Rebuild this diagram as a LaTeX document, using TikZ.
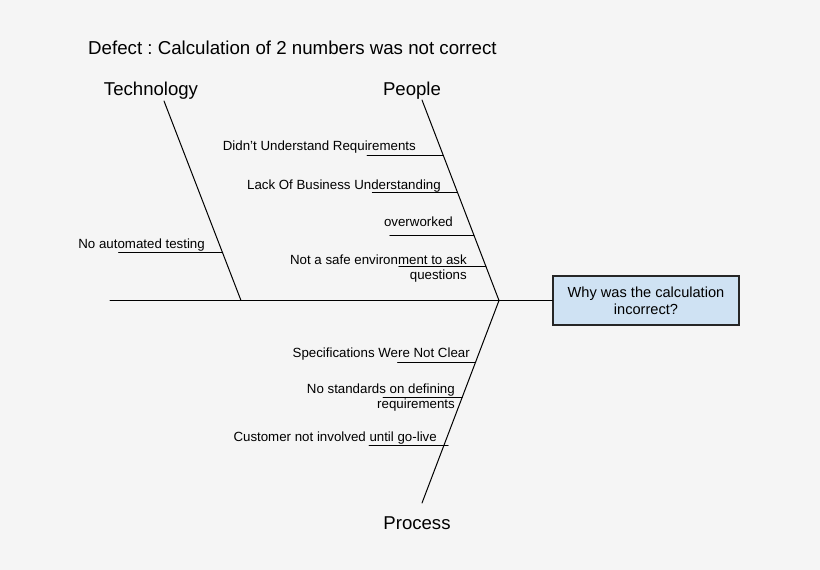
\documentclass[tikz,border=0pt]{standalone}
\usepackage{fontspec}
\setmainfont{Liberation Sans}
\usepackage{xcolor}
\usepackage{tikz}
\usetikzlibrary{calc,positioning}
\definecolor{bgcol}{HTML}{F5F5F5}
\definecolor{boxcol}{HTML}{CFE2F3}
\frenchspacing

\begin{document}
\begin{tikzpicture}[x=1pt, y=-1pt,
        bone/.style={line width=1pt, line cap=round},
        cause/.style={anchor=base east, inner sep=0pt, align=right, font=\fontsize{13.3}{15}\selectfont},
        category/.style={anchor=base, inner sep=0pt, font=\fontsize{18.6}{21}\selectfont},
        effect/.style={draw=black!85, line width=1.2pt, fill=boxcol, minimum width=186pt,
            minimum height=49pt, align=center, font=\fontsize{14.6}{17}\selectfont}]

    \path[use as bounding box, fill=bgcol] (0,0) rectangle (820,570);

    \node[anchor=base west, inner sep=0pt, font=\fontsize{18.7}{22}\selectfont] (defect) at (88,54)
        {Defect : Calculation of 2 numbers was not correct};

    % head
    \node[effect] (why) at (646,300.5) {Why was the calculation\\incorrect?};

    % categories
    \node[category] (tech) at (151,95) {Technology};
    \node[category] (people) at (412,95) {People};
    \node[category] (process) at (417,529) {Process};

    % bones
    \coordinate (tail) at (110,300.5);
    \coordinate (ttop) at (164,101);
    \coordinate (tbot) at (241,300.5);
    \coordinate (ptop) at (422,100);
    \coordinate (joint) at (499,300.5);
    \coordinate (rbot) at (422,503);
    \draw[bone] (tail) -- (why.west);
    \draw[bone] (ttop) -- (tbot);
    \draw[bone] (ptop) -- (joint) -- (rbot);

    % technology causes
    \coordinate (t1) at ($(ttop)!0.76!(tbot)$);
    \draw[bone] (t1) -- ++(-104,0) coordinate (t1e);
    \node[cause] (notest) at (205,248) {No automated testing};

    % people causes
    \coordinate (p1) at ($(ptop)!0.275!(joint)$);
    \coordinate (p2) at ($(ptop)!0.46!(joint)$);
    \coordinate (p3) at ($(ptop)!0.675!(joint)$);
    \coordinate (p4) at ($(ptop)!0.83!(joint)$);
    \draw[bone] (p1) -- ++(-76,0) coordinate (p1e);
    \draw[bone] (p2) -- ++(-85,0) coordinate (p2e);
    \draw[bone] (p3) -- ++(-84,0) coordinate (p3e);
    \draw[bone] (p4) -- ++(-87,0) coordinate (p4e);
    \node[cause] (requnder) at (416,150) {Didn’t Understand Requirements};
    \node[cause] (business) at (441,189) {Lack Of Business Understanding};
    \node[cause] (overwork) at (453,226) {overworked};
    \node[cause] (unsafe) at (467,279) {Not a safe environment to ask\\questions};

    % process causes
    \coordinate (r1) at ($(joint)!0.305!(rbot)$);
    \coordinate (r2) at ($(joint)!0.478!(rbot)$);
    \coordinate (r3) at ($(joint)!0.714!(rbot)+(4,0)$);
    \draw[bone] (r1) -- ++(-78,0) coordinate (r1e);
    \draw[bone] (r2) -- ++(-79,0) coordinate (r2e);
    \draw[bone] (r3) -- ++(-79,0) coordinate (r3e);
    \node[cause] (specs) at (470,357) {Specifications Were Not Clear};
    \node[cause] (nostd) at (455,408) {No standards on defining\\requirements};
    \node[cause] (customer) at (437,441) {Customer not involved until go-live};
\end{tikzpicture}
\end{document}
